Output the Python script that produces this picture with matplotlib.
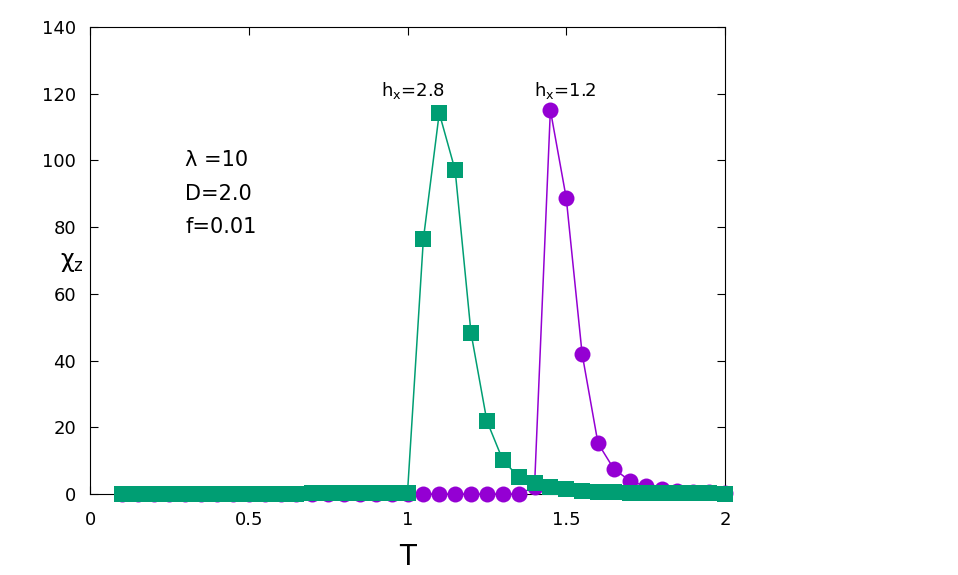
import numpy as np
import matplotlib
matplotlib.use("Agg")
import matplotlib.pyplot as plt

# temperatures (same grid for both runs)
temps = [0.10, 0.15, 0.20, 0.25, 0.30, 0.35, 0.40, 0.45, 0.50, 0.55,
         0.60, 0.65, 0.70, 0.75, 0.80, 0.85, 0.90, 0.95, 1.00, 1.05,
         1.10, 1.15, 1.20, 1.25, 1.30, 1.35, 1.40, 1.45, 1.50, 1.55,
         1.60, 1.65, 1.70, 1.75, 1.80, 1.85, 1.90, 1.95, 2.00]

# chi_z for h_x = 1.2 (circles)
chi_hx12 = [0.0, 0.0, 0.0, 0.0, 0.0, 0.0, 0.0, 0.0, 0.0, 0.0,
            0.0, 0.0, 0.0, 0.0, 0.0, 0.0, 0.0, 0.0, 0.0, 0.0,
            0.0, 0.0, 0.0, 0.0, 0.0, 0.0, 2.0, 115.1, 88.7, 42.0,
            15.2, 7.5, 4.0, 2.3, 1.5, 1.0, 0.7, 0.5, 0.4]

# chi_z for h_x = 2.8 (squares)
chi_hx28 = [0.0, 0.0, 0.0, 0.0, 0.0, 0.0, 0.0, 0.0, 0.0, 0.05,
            0.1, 0.1, 0.15, 0.15, 0.2, 0.2, 0.25, 0.3, 0.4, 76.4,
            114.2, 97.1, 48.3, 21.9, 10.2, 5.1, 3.3, 2.2, 1.4, 0.9,
            0.6, 0.45, 0.35, 0.3, 0.25, 0.2, 0.15, 0.15, 0.1]

x_ticks = [0, 0.5, 1, 1.5, 2]
x_tick_labels = ["0", "0.5", "1", "1.5", "2"]
y_ticks = [0, 20, 40, 60, 80, 100, 120, 140]

purple = "#9400d3"
green = "#009e73"

fig = plt.figure(figsize=(9.58, 5.75), dpi=100)
ax = fig.add_axes([90 / 958, 81 / 575, 635 / 958, 467 / 575])

ax.plot(temps, chi_hx12, color=purple, lw=1.1, marker="o", ms=11.5,
        mew=0, clip_on=False, zorder=3)
ax.plot(temps, chi_hx28, color=green, lw=1.1, marker="s", ms=11.5,
        mew=0, clip_on=False, zorder=4)

ax.set_xlim(0, 2)
ax.set_ylim(0, 140)
ax.set_xticks(x_ticks)
ax.set_xticklabels(x_tick_labels)
ax.set_yticks(y_ticks)
ax.tick_params(axis="both", direction="in", top=True, right=True,
               length=6, width=0.8, labelsize=13)
ax.tick_params(axis="x", pad=12)
ax.tick_params(axis="y", pad=10)

ax.set_xlabel("T", fontsize=20, labelpad=10)
ax.set_ylabel("χ$_\\mathregular{z}$", fontsize=17, rotation=0,
              ha="center", va="center")
ax.yaxis.set_label_coords(-0.028, 0.497)

ax.text(0.30, 100, "λ =10", fontsize=15, va="center", ha="left")
ax.text(0.30, 90, "D=2.0", fontsize=15, va="center", ha="left")
ax.text(0.30, 80, "f=0.01", fontsize=15, va="center", ha="left")

ax.text(1.017, 121, "h$_\\mathregular{x}$=2.8", fontsize=13, ha="center", va="center")
ax.text(1.496, 121, "h$_\\mathregular{x}$=1.2", fontsize=13, ha="center", va="center")

fig.savefig("out.png", dpi=100)
